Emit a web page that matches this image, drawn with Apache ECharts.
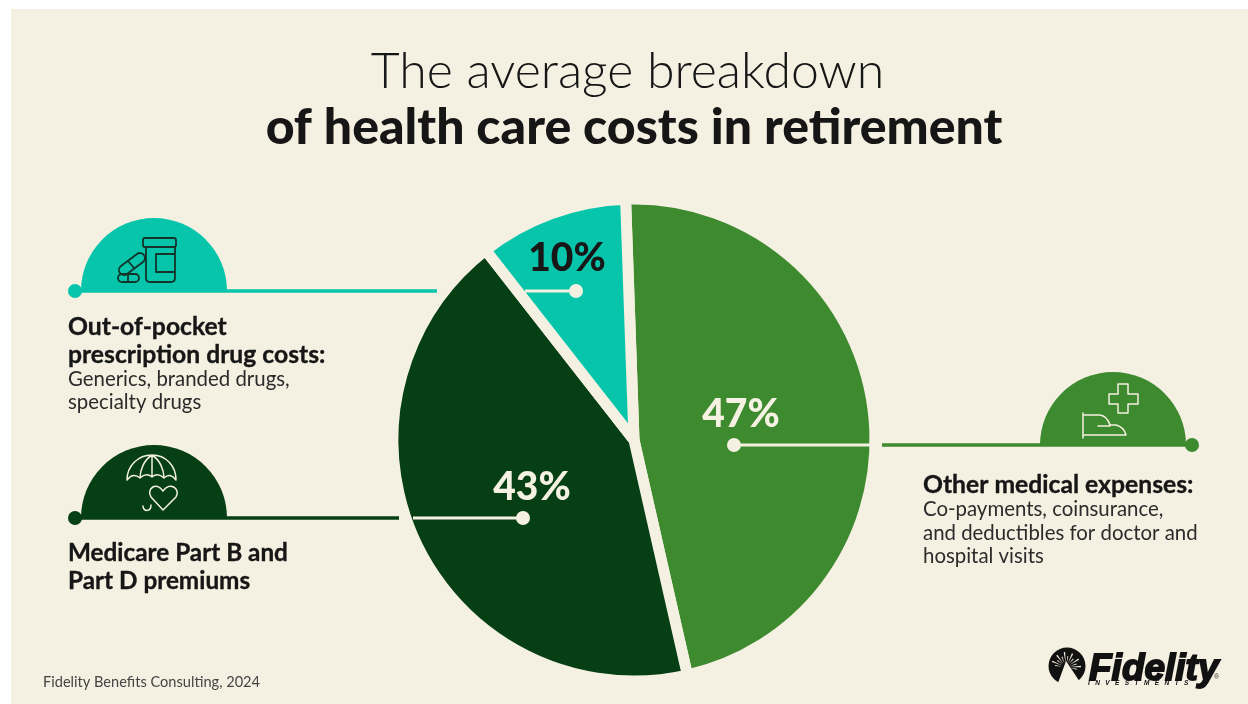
<!DOCTYPE html>
<html>
<head>
<meta charset="utf-8">
<style>html,body{margin:0;padding:0;background:#fff}#chart{width:1248px;height:704px}</style>
<script src="https://cdn.jsdelivr.net/npm/echarts@6/dist/echarts.min.js"></script>
</head>
<body>
<div id="chart"></div>
<script>
// Shares of retirement health care spending
const categories = ['Other medical expenses', 'Medicare Part B and Part D premiums', 'Out-of-pocket prescription drug costs'];
const shares = [47, 43, 10];
const sliceColors = ['#3e8a2e', '#063f14', '#06c5aa'];
const labelColors = ['#f6f2e3', '#f6f2e3', '#171717'];
const labelCenters = [[741, 414], [532, 487], [567, 258]];

const titleLines = ['The average breakdown', 'of health care costs in retirement'];
const sourceNote = 'Fidelity Benefits Consulting, 2024';

const PAPER = '#f5f1e2';
const INK = '#161616';
const BODY = '#2b2b2b';
const FONT = 'Lato';
const HEAD_SIZE = 24.7;
const BODY_SIZE = 20.4;

// Text is placed by the top of its line box; headings get a hairline stroke for extra weight
function txt(x, y, text, size, weight, color) {
  return {
    type: 'text', z: 20, x: x, y: y,
    style: { text: text, fontFamily: FONT, fontSize: size, fontWeight: weight, fill: color, textAlign: 'left' }
  };
}
function head(x, y, text, size) {
  const el = txt(x, y, text, size, 700, INK);
  el.style.stroke = INK;
  el.style.lineWidth = 0.35;
  return el;
}
function rule(x1, x2, y, color, w, z) {
  return { type: 'line', z: z, shape: { x1: x1, y1: y, x2: x2, y2: y }, style: { stroke: color, lineWidth: w } };
}
function dot(x, y, r, color, z) {
  return { type: 'circle', z: z, shape: { cx: x, cy: y, r: r }, style: { fill: color } };
}
function dome(cx, y, color) {
  return { type: 'sector', z: 5, shape: { cx: cx, cy: y, r: 73, r0: 0, startAngle: Math.PI, endAngle: 2 * Math.PI, clockwise: true }, style: { fill: color } };
}

// The graphic component has no free-form path type, so each glyph is registered as its own shape
let glyphCount = 0;
function glyph(d, style, z) {
  const name = 'glyph' + (glyphCount++);
  echarts.graphic.registerShape(name, echarts.graphic.extendPath(d, {}));
  return { type: name, z: z, style: style };
}
function icon(d, color, w) {
  return glyph(d, { fill: 'none', stroke: color, lineWidth: w, lineJoin: 'round', lineCap: 'round' }, 6);
}

// Fidelity sunburst: dark disc with cream rays and a small peak at the bottom
function logoRays(cx, cy) {
  const out = [];
  const angles = [-172, -158, -143, -128, -112, -96, -80, -64, -48, -32, -16, -2, 12];
  angles.forEach(function (a, i) {
    const t = a * Math.PI / 180, sp = 0.05;
    const len = i % 2 ? 15 : 11, st = 4;
    const p = function (ang, r) { return (cx + Math.cos(ang) * r).toFixed(1) + ' ' + (cy + Math.sin(ang) * r).toFixed(1); };
    out.push('M' + p(t, st) + 'L' + p(t - sp, len) + 'L' + p(t + sp, len) + 'Z');
  });
  return out.join('');
}

const graphics = [
  { type: 'rect', z: 0, shape: { x: 11, y: 9, width: 1237, height: 695 }, style: { fill: PAPER } },

  // Left callout: prescriptions
  rule(75, 437, 291, sliceColors[2], 3.5, 4), dome(154, 291, sliceColors[2]), dot(75, 291, 7, sliceColors[2], 5),
  icon('M146 247V278Q146 282 150 282H171Q175 282 175 278V247M145 238H174Q176 238 176 240V245Q176 247 174 247H145Q143 247 143 245V240Q143 238 145 238ZM175 254H156V272H175', '#12342a', 1.8),
  icon('M121 266L137 254A5 5 0 0 1 143 262L127 274A5 5 0 0 1 121 266ZM128 261L134 268M122 274H135A4 4 0 0 1 135 282H122A4 4 0 0 1 122 274ZM128 274V282', '#12342a', 1.8),
  rule(525, 577, 291, PAPER, 3, 10), dot(576, 291, 7, PAPER, 10),
  head(68, 315, 'Out-of-pocket', HEAD_SIZE),
  head(68, 343, 'prescription drug costs:', HEAD_SIZE),
  txt(68, 369, 'Generics, branded drugs,', BODY_SIZE, 400, BODY),
  txt(68, 392, 'specialty drugs', BODY_SIZE, 400, BODY),

  // Left callout: premiums
  rule(75, 399, 518, sliceColors[1], 3.5, 4), dome(154, 518, sliceColors[1]), dot(75, 518, 7, sliceColors[1], 5),
  icon('M127 480C127 466 138 455 152 455C166 455 176 466 176 480Q170 472 164 478Q158 472 152 477Q146 472 140 478Q133 472 127 480ZM152 455C144 460 140 470 140 478M152 455C160 460 164 470 164 478M152 455V477', PAPER, 1.5),
  icon('M163 510L151 497C146 489 156 481 163 491C170 481 181 489 176 497ZM151 505C151 512 143 512 143 506', PAPER, 1.5),
  rule(413, 523, 518, PAPER, 3, 10), dot(523, 518, 7, PAPER, 10),
  head(68, 541, 'Medicare Part B and', 24.3),
  head(68, 569, 'Part D premiums', 24.3),

  // Right callout: other medical
  rule(882, 1192, 445, sliceColors[0], 3.5, 4), dome(1113, 445, sliceColors[0]), dot(1192, 445, 7, sliceColors[0], 5),
  icon('M1118 384H1128V394H1138V404H1128V413H1118V404H1109V394H1118Z', PAPER, 1.5),
  icon('M1083 413V438M1083 415H1100Q1107 416 1110 425H1116Q1124 427 1126 435H1083M1098 426H1110', PAPER, 1.5),
  rule(734, 870, 445, PAPER, 3, 10), dot(734, 445, 7, PAPER, 10),
  head(923, 473, 'Other medical expenses:', HEAD_SIZE),
  txt(923, 499, 'Co-payments, coinsurance,', BODY_SIZE, 400, BODY),
  txt(923, 523, 'and deductibles for doctor and', BODY_SIZE, 400, BODY),
  txt(923, 546, 'hospital visits', BODY_SIZE, 400, BODY),

  txt(43, 675, sourceNote, 14.6, 400, '#444444'),

  // Logo
  dot(1067, 666, 18.5, '#111111', 20),
  glyph(logoRays(1066, 667), { fill: PAPER }, 21),
  glyph('M1066 661L1058 683Q1069 688 1080 682Z', { fill: PAPER }, 21),
  { type: 'text', z: 21, x: 1089, y: 651, style: { text: 'Fidelity', fontFamily: 'Liberation Sans', fontSize: 37, fontWeight: 700, fontStyle: 'italic', fill: '#111111', stroke: '#111111', lineWidth: 1.8, textAlign: 'left' } },
  { type: 'text', z: 21, x: 1214, y: 674, style: { text: '®', fontFamily: 'Liberation Sans', fontSize: 7, fill: '#333333', textAlign: 'left' } },
  { type: 'text', z: 21, x: 1088, y: 680, style: { text: 'I   N   V   E   S   T   M   E   N   T   S', fontFamily: 'Liberation Sans', fontSize: 6.5, fontWeight: 700, fontStyle: 'italic', fill: '#111111', textAlign: 'left' } }
];

const chart = echarts.init(document.getElementById('chart'), null, { renderer: 'canvas' });
chart.setOption({
  animation: false,
  backgroundColor: '#ffffff',
  title: [
    { text: titleLines[0], left: 622.5, top: 42, textAlign: 'center', textStyle: { fontFamily: FONT, fontSize: 50, fontWeight: 300, color: INK } },
    { text: titleLines[1], left: 629, top: 98, textAlign: 'center', textStyle: { fontFamily: FONT, fontSize: 50, fontWeight: 900, color: INK } }
  ],
  graphic: { elements: graphics },
  series: [{
    type: 'pie',
    center: [634, 440],
    radius: [0, 241],
    startAngle: 92,
    clockwise: true,
    silent: true,
    itemStyle: { borderColor: PAPER, borderWidth: 11, borderJoin: 'miter' },
    label: { show: true, position: 'inside', formatter: '{c}%', fontFamily: FONT, fontSize: 39, fontWeight: 900 },
    labelLine: { show: false },
    labelLayout: function (p) {
      const c = labelCenters[p.dataIndex];
      return { x: c[0], y: c[1], align: 'center', verticalAlign: 'middle' };
    },
    data: categories.map(function (name, i) {
      return { name: name, value: shares[i], itemStyle: { color: sliceColors[i] }, label: { color: labelColors[i] } };
    })
  }]
});
</script>
</body>
</html>
